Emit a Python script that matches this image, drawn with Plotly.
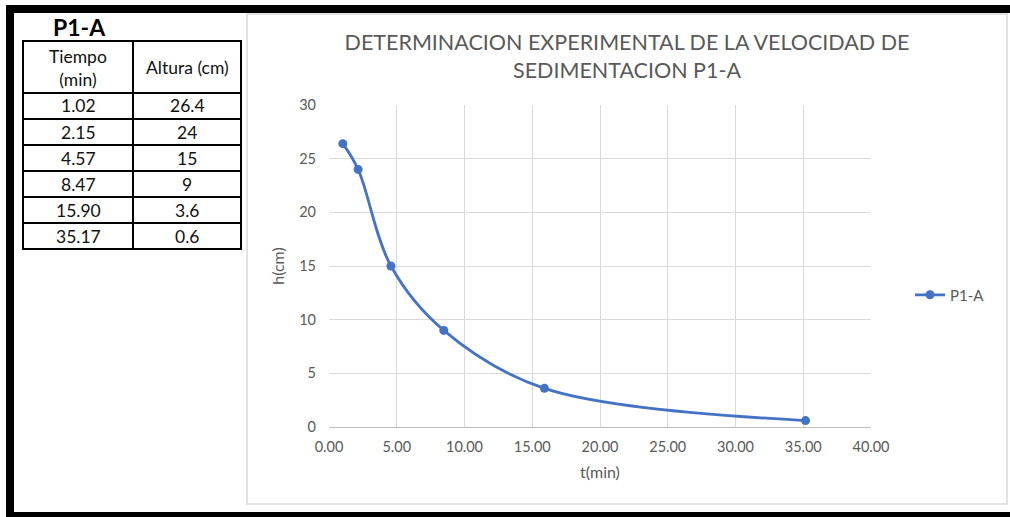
import plotly.graph_objects as go

# ---- data ----
tiempo = [1.02, 2.15, 4.57, 8.47, 15.90, 35.17]
altura = [26.4, 24, 15, 9, 3.6, 0.6]
tiempo_txt = ["1.02", "2.15", "4.57", "8.47", "15.90", "35.17"]
altura_txt = ["26.4", "24", "15", "9", "3.6", "0.6"]
x_ticks = [0, 5, 10, 15, 20, 25, 30, 35, 40]
x_ticklabels = ["0.00", "5.00", "10.00", "15.00", "20.00", "25.00", "30.00", "35.00", "40.00"]
y_ticks = [0, 5, 10, 15, 20, 25, 30]
series_name = "P1-A"
title_text = "DETERMINACION EXPERIMENTAL DE LA VELOCIDAD DE<br>SEDIMENTACION P1-A"

W, H = 1010, 517
PL, PR, PT, PB = 329, 871, 105, 427  # plot area in pixels

def px(x):
    return (x - PL) / (PR - PL)

def py(y):
    return (PB - y) / (PB - PT)

FONT = "Lato"
GRAY = "#595959"
BLUE = "#4472C4"

fig = go.Figure()
fig.add_trace(go.Scatter(
    x=tiempo, y=altura, mode="lines+markers", name=series_name,
    line=dict(color=BLUE, width=2.75, shape="spline", smoothing=1.0),
    marker=dict(color=BLUE, size=9),
))

shapes = []
# outer black frame (screenshot border)
for (x0, y0, x1, y1) in [(6, 5, 1010, 13), (6, 5, 14, 517), (6, 512, 1010, 517)]:
    shapes.append(dict(type="rect", xref="paper", yref="paper", x0=px(x0), x1=px(x1),
                       y0=py(y0), y1=py(y1), fillcolor="black", line=dict(width=0), layer="above"))
# chart area border
shapes.append(dict(type="rect", xref="paper", yref="paper", x0=px(247), x1=px(1007),
                   y0=py(14), y1=py(504), line=dict(color="#D9D9D9", width=1.5), layer="below"))

# data table
tx0, tx1, tmid = 23, 241, 133
ty_top, ty_head = 41, 93
row_h = 26
n = len(tiempo)
ty_bot = ty_head + row_h * n
shapes.append(dict(type="rect", xref="paper", yref="paper", x0=px(tx0), x1=px(tx1),
                   y0=py(ty_top), y1=py(ty_bot), line=dict(color="black", width=2)))
shapes.append(dict(type="line", xref="paper", yref="paper", x0=px(tmid), x1=px(tmid),
                   y0=py(ty_top), y1=py(ty_bot), line=dict(color="black", width=2)))
for i in range(n):
    yy = ty_head + row_h * i
    shapes.append(dict(type="line", xref="paper", yref="paper", x0=px(tx0), x1=px(tx1),
                       y0=py(yy), y1=py(yy), line=dict(color="black", width=2)))

annotations = []
TF = dict(family=FONT, size=17.5, color="#111111")

def ann(text, x, y, font):
    annotations.append(dict(text=text, x=px(x), y=py(y), xref="paper", yref="paper",
                            xanchor="center", yanchor="middle", showarrow=False, font=font))

ann("<b>P1-A</b>", 79, 27, dict(family=FONT, size=23, color="black"))
ann("Tiempo<br>(min)", (tx0 + tmid) / 2, (ty_top + ty_head) / 2 + 0.5, dict(family=FONT, size=17.5, color="#111111"))
ann("Altura (cm)", (tmid + tx1) / 2, (ty_top + ty_head) / 2, TF)
for i in range(n):
    yc = ty_head + row_h * i + row_h / 2
    ann(tiempo_txt[i], (tx0 + tmid) / 2, yc, TF)
    ann(altura_txt[i], (tmid + tx1) / 2, yc, TF)

fig.update_layout(
    width=W, height=H,
    margin=dict(l=PL, r=W - PR, t=PT, b=H - PB, pad=0),
    paper_bgcolor="white", plot_bgcolor="white",
    font=dict(family=FONT, color=GRAY, size=14),
    title=dict(text=title_text, x=px(627), xanchor="center", xref="paper",
               y=1 - 50 / H, yanchor="middle", yref="container",
               font=dict(family=FONT, size=21.5, color=GRAY)),
    xaxis=dict(range=[0, 40], tickvals=x_ticks, ticktext=x_ticklabels,
               showgrid=True, gridcolor="#D9D9D9", gridwidth=1,
               showline=True, linecolor="#BFBFBF", linewidth=1, zeroline=False,
               ticks="", ticklabelstandoff=7, tickfont=dict(family=FONT, size=14.5, color=GRAY),
               title=dict(text="t(min)", standoff=12, font=dict(family=FONT, size=16, color=GRAY))),
    yaxis=dict(range=[0, 30], tickvals=y_ticks,
               showgrid=True, gridcolor="#D9D9D9", gridwidth=1,
               showline=False, zeroline=False,
               ticks="", ticklabelstandoff=12, tickfont=dict(family=FONT, size=14.5, color=GRAY),
               title=dict(text="h(cm)", standoff=10, font=dict(family=FONT, size=16, color=GRAY))),
    showlegend=True,
    legend=dict(x=px(910), y=py(295), xanchor="left", yanchor="middle",
                font=dict(family=FONT, size=15, color=GRAY), bgcolor="rgba(0,0,0,0)",
                itemwidth=30),
    shapes=shapes,
    annotations=annotations,
)

fig.write_html("out.html")
